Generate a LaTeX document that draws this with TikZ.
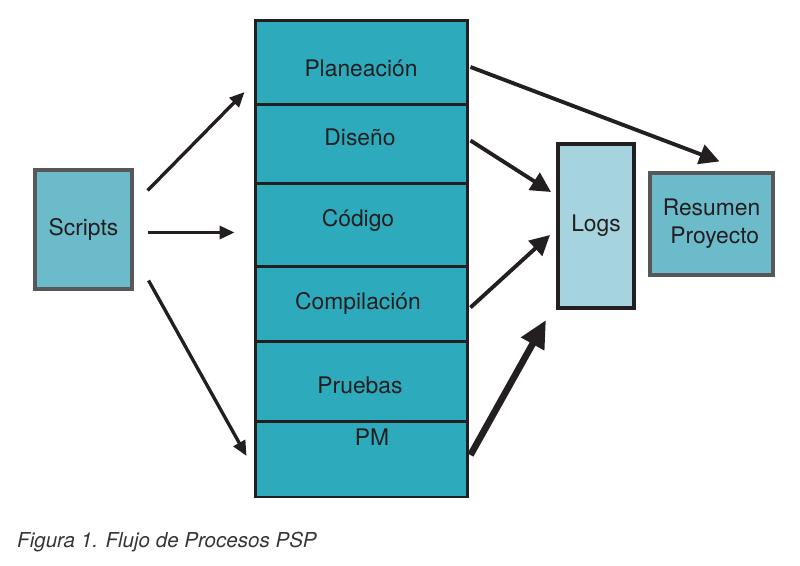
\documentclass[tikz,border=0pt]{standalone}
\usepackage{fontspec}
\setmainfont{TeX Gyre Heros}
\usetikzlibrary{calc,arrows.meta}
\definecolor{colcyan}{HTML}{2EAABD}
\definecolor{boxcyan}{HTML}{6CBBCB}
\definecolor{logcyan}{HTML}{A5D4DE}
\definecolor{ink}{HTML}{231F20}
\definecolor{edge}{HTML}{58585A}

\begin{document}
\begin{tikzpicture}[x=0.02cm,y=-0.02cm,
    every node/.style={text=ink,font=\fontsize{13}{16}\selectfont},
    seg/.style={draw=ink,line width=1.7pt,fill=colcyan,inner sep=0,minimum width=4.26cm},
    side/.style={draw=edge,line width=1.8pt,fill=boxcyan,inner sep=0},
    arr/.style={draw=ink,line width=2.2pt,-{Triangle[length=0.4cm,width=0.4cm]}},
    thin arr/.style={draw=ink,line width=1.9pt,-{Triangle[length=0.3cm,width=0.26cm]}}]
  \useasboundingbox (0,0) rectangle (800,565);
  % phase column
  \node (plan) [seg,minimum height=1.68cm] at (361.5,62) {};
  \node (dis)  [seg,minimum height=1.58cm] at (361.5,143.5) {};
  \node (cod)  [seg,minimum height=1.66cm] at (361.5,224.5) {};
  \node (comp) [seg,minimum height=1.5cm]  at (361.5,303.5) {};
  \node (prue) [seg,minimum height=1.6cm]  at (361.5,381) {};
  \node (pm)   [seg,minimum height=1.52cm] at (361.5,459) {};
  \node (tplan) at (361,68) {Planeación};
  \node (tdis)  at (360,137) {Diseño};
  \node (tcod)  at (358,220) {Código};
  \node (tcomp) at (358,303) {Compilación};
  \node (tprue) at (360,385) {Pruebas};
  \node (tpm)   at (372,437) {PM};

  \node (scr) [side,minimum width=1.94cm,minimum height=2.38cm] at (83.5,229.5) {Scripts};
  \node (logs) [draw=ink,line width=2.3pt,fill=logcyan,inner sep=0,minimum width=1.52cm,minimum height=3.28cm] at (596,226) {Logs};
  \node (res) [side,align=center,minimum width=2.46cm,minimum height=2.04cm] at (711.5,224) {Resumen\\ \ Proyecto};

  \draw[thin arr] ($(scr.east)+(14,-39)$) -- ($(plan.west)+(-9,30)$);
  \draw[thin arr] ($(scr.east)+(14,3)$) -- ($(cod.west)+(-19,8)$);
  \draw[thin arr] ($(scr.east)+(15,51)$) -- ($(pm.west)+(-7,-3)$);
  \draw[arr] ($(plan.east)+(1,5)$) -- ($(res.north)+(8,-10)$);
  \draw[arr] ($(dis.east)+(1,-3)$) -- ($(logs.west)+(-5,-34)$);
  \draw[arr] ($(comp.east)+(1,4)$) -- ($(logs.west)+(-6,9)$);
  \draw[draw=ink,line width=3.8pt,-{Triangle[length=0.55cm,width=0.5cm]}] ($(pm.east)+(1,-4)$) -- ($(logs.south west)+(-10,10)$);

  \node (cap) [anchor=west,text=ink!90,font=\fontsize{11.7}{14}\selectfont\itshape] at (11,542) {Figura 1. Flujo de Procesos PSP};
\end{tikzpicture}
\end{document}
